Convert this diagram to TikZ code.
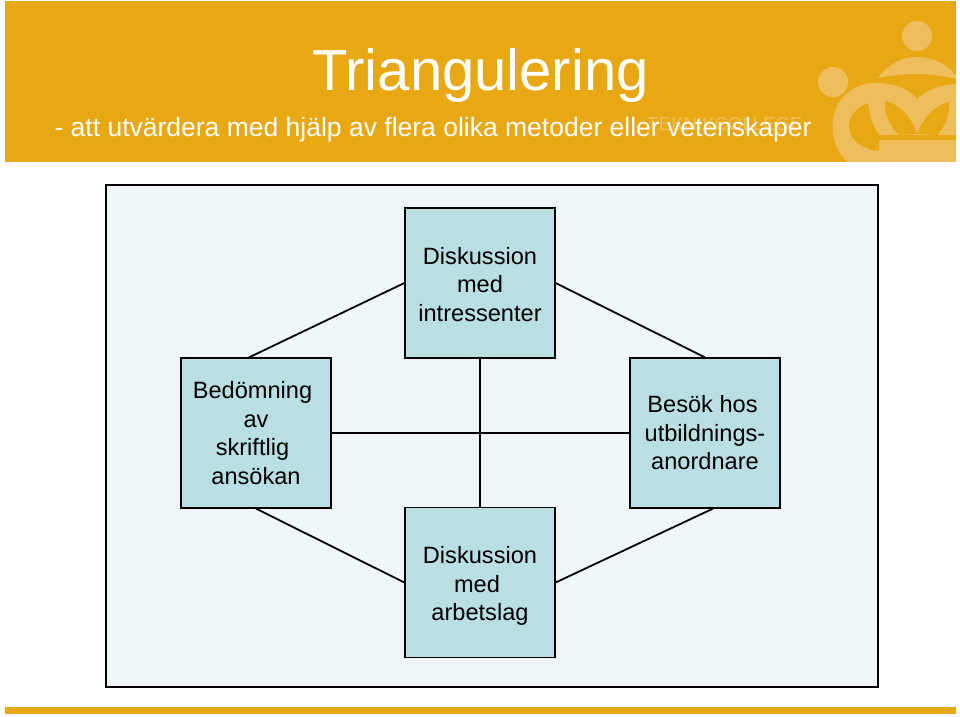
\documentclass[tikz,border=0pt]{standalone}
\usepackage{fontspec}
\setmainfont{Liberation Sans}
\definecolor{bannerc}{HTML}{E8A813}
\definecolor{logoc}{HTML}{EEBE5C}
\definecolor{panelc}{HTML}{EFF6FA}
\definecolor{boxc}{HTML}{BADFE3}
\tikzset{
	boxnode/.style={draw=black, line width=1.2pt, fill=boxc, minimum width=150pt, minimum height=150pt, inner sep=0pt, align=center, font=\fontsize{23.6}{28.5}\selectfont},
	link/.style={draw=black, line width=1.8pt}
}
\begin{document}
\begin{tikzpicture}[x=1pt, y=-1pt]
	\useasboundingbox (0, 0) rectangle (960, 716);

	% banner and strip
	\fill [bannerc] (4.5, 1) rectangle (956, 162);
	\fill [bannerc] (4.5, 707) rectangle (956, 714);

	% logo
	\begin{scope}
		\clip (4.5, 1) rectangle (956, 162);
		\fill [logoc] (917, 36) circle (15);
		\fill [logoc] (833, 82) circle (15);
		\fill [logoc] (878, 78) .. controls (888, 64) and (902, 57) .. (917, 57) .. controls (932, 57) and (948, 64) .. (956, 76) -- (956, 79) .. controls (945, 76) and (930, 74) .. (917, 74) .. controls (905, 74) and (892, 75) .. (878, 78) -- cycle;
		\fill [logoc] (847, 162) .. controls (836, 150) and (831, 136) .. (833, 120) .. controls (836, 98) and (853, 83) .. (875, 83) .. controls (893, 83) and (908, 88) .. (917, 99) .. controls (926, 90) and (940, 85) .. (956, 84) -- (956, 135) -- (879, 135) -- (879, 162) -- cycle;
		\fill [bannerc] (868, 103) .. controls (855, 108) and (849, 117) .. (849, 126) .. controls (849, 138) and (860, 149) .. (879, 151) -- (879, 135) .. controls (872, 125) and (869, 114) .. (868, 103) -- cycle;
		\fill [bannerc] (885, 101) .. controls (900, 104) and (912, 118) .. (917, 134) -- (899, 135) .. controls (890, 127) and (884, 114) .. (885, 101) -- cycle;
		\fill [bannerc] (917, 134) .. controls (923, 118) and (935, 105) .. (949, 102) .. controls (950, 115) and (945, 127) .. (937, 135) -- cycle;
		\fill [bannerc] (879, 135) rectangle (956, 140);
		\fill [logoc] (879, 140) rectangle (956, 162);
	\end{scope}

	% texts of the banner
	\node [text=logoc, font=\fontsize{18.6}{24}\selectfont] (school) at (725, 124) {TEKNIKCOLLEGE};
	\node [text=white, font=\fontsize{58}{60}\selectfont] (title) at (480.5, 75) {Triangulering};
	\node [text=white, font=\fontsize{26.5}{30}\selectfont, anchor=west] (subtitle) at (51, 130) {- att utvärdera med hjälp av flera olika metoder eller vetenskaper};

	% panel
	\node [draw=black, line width=1.5pt, fill=panelc, minimum width=772pt, minimum height=502pt, inner sep=0pt] (panel) at (492, 436) {};

	% boxes
	\node [boxnode] (talk1) at (480, 283) {\rule{0pt}{20pt}Diskussion\\med\\intressenter};
	\node [boxnode] (review) at (256, 433) {Bedömning\kern7pt\\av\\skriftlig\kern7pt\\ansökan};
	\node [boxnode] (visit) at (705, 433) {Besök hos\kern5pt\\utbildnings-\\anordnare};
	\node [boxnode] (talk2) at (480, 582.5) {\rule{0pt}{24pt}Diskussion\\med\kern6pt\\arbetslag};

	% connectors
	\draw [link] (talk1.west) -- ([xshift=-7pt]review.north);
	\draw [link] (talk1.east) -- (visit.north);
	\draw [link] (review.south) -- (talk2.west);
	\draw [link] (talk2.east) -- ([xshift=8pt]visit.south);
	\draw [link] (talk1.south) -- (talk2.north);
	\draw [link] (review.east) -- (visit.west);

\end{tikzpicture}
\end{document}
